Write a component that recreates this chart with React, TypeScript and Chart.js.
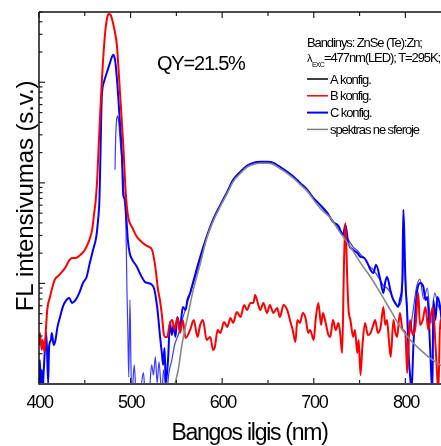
import React, { useEffect, useRef } from 'react';
import { Chart, registerables } from 'chart.js';

Chart.register(...registerables);

// ---- data (wavelength nm, intensity a.u.) ----
const redX = [400,401,403,404,406,407,409,412,417,421,425,429,432,436,440,445,450,455,458,460,462,463.5,465,467,469,472,474,476,478,481,483,485,488.5,492,494.5,497,502,507,512,516,520,523.5,527,530,532,534.4,536,537.7,540,542.5,545.4,548,551,554,557,560,565,569,573,576,579,583,587,590,592,595,598,602,605.5,609,612,616,620,624,627,631,634,636,638,641.6,645,649,652,656,660,663,667,671,674,677,680,682,685,688,691,694,696,700,702,705,708,710,713,716,718,721,724,727,729,731,733,734.5,736.6,738,740,743,745,747.5,749,751,753,756,759,762,765,767,770,773,776,778,780,782,784,787,789,791,794,797,800,802,805,808,811,814,816,819,822,825,827,830,833,835,836,838,840];
const redY = [2.44,3.22,2.18,2.74,2.08,2.87,5.45,7.34,10.8,11.9,13.0,14.5,16.4,17.9,17.9,19.2,21.5,27.1,34.1,48,68,107,213,533,1188,2970,4190,4770,4700,3820,3110,2360,769,239,85,48,35.7,29.0,25.9,24.2,23.1,21.5,14.6,8.61,6.85,4.64,3.22,2.94,2.94,3.87,4.33,3.45,4.54,3.22,4.33,2.87,3.45,4.33,2.94,3.87,4.33,2.74,2.94,2.18,2.33,3.45,3.22,4.14,3.69,4.54,4.05,5.2,4.64,6.11,5.45,6.4,6.4,7.69,6.85,5.45,6.4,5.09,6.11,5.09,5.71,4.64,6.11,5.45,4.33,3.45,2.62,4.33,4.05,5.09,4.54,3.22,3.45,2.74,4.33,6.4,3.87,5.09,4.05,3.07,2.94,4.33,3.45,4.05,3.07,2.03,16.0,40.0,10.8,5.45,4.33,2.94,3.45,2.03,2.74,1.23,2.33,4.05,3.07,3.22,3.87,4.33,3.22,3.69,5.84,3.87,4.33,2.74,1.86,4.33,3.29,2.94,5.09,3.45,3.22,1.29,4.33,3.07,3.69,8.04,3.87,4.33,5.84,3.45,4.33,5.84,2.33,1.1,0.8,4.33,3.45];

const blueX = [400,401,402,403,404,405,407,408,410,411,413,414,416,418,420,423,426,430,433,436,440,444,448,452,455,459,462.5,464.5,466,467,468.5,471,474,476.8,479.3,481,483,485,487.8,490.5,492,494,496,497,499,502,507,510,516,519,525,529,532,534,535.5,537,538.5,541,543,545,547,549,551,554,557,560,562,565,568,575,583,590,598,605.5,612,620,627,634,641.6,649,656,663,671,678,685,693,699.5,707,714.8,721,726.8,732,734.5,737.7,743,747.5,751,755,758.5,762,765,768,772.7,776,778,780,783.6,786,789,792,794.5,796.7,797.8,799,800,802,803.3,805.5,806.6,808.7,811,813,816.4,819.7,822,824,827,829.5,830.6,832.8,835,838,839.5];
const blueY = [1.1,1.73,0.8,1.38,0.8,1.29,2.56,3.22,1.02,2.33,2.74,3.22,2.44,2.74,3.61,4.64,5.84,6.85,7.17,6.4,6.85,8.04,10.1,11.6,15.3,21.5,29.0,42.8,67.8,169,701,1012,1244,1493,1754,1879,1675,1109,475,190,76,67.8,36.5,27.1,20.1,17.1,14.6,12.7,10.3,10.1,9.23,5.84,3.07,2.08,1.55,2.28,1.02,1.81,4.14,3.07,3.87,2.94,4.64,3.69,5.84,5.45,6.85,8.04,10.1,17.1,29.0,42.8,60.4,81.4,107,129,148,158,162,162,158,144,129,115,100,85.2,70.9,60.4,50.3,40.9,37.4,30.4,38.3,25.3,21.5,20.1,18.4,18.0,16.0,13.6,12.7,15.3,10.8,8.04,10.3,11.6,8.61,7.17,6.4,5.84,7.17,10.8,53.9,27.1,10.8,5.09,2.18,1.1,0.8,2.33,5.45,8.61,10.1,9.23,6.85,7.35,2.33,0.8,6.85,4.33,7.35,5.84,4.33];

const blue2X = [483,483.5,485,486,487,489,491.5,493,495,496,497,498,499.3,500.5,501.5,504,506,510,514,516,520,523,525,527,529,531,534,536,539,542,545,548,552,557,562,568,576,583,590,598,605.5,612,620,627,634,641.6,649,656,663,671,678,685,693,699.5,707,714,721,727,732,738,743,748,752,756,760,764,768,772,776,780,784,788,792,796,798.5,801,804,808,812,816,820,824,828,832,836,840];
const blue2Y = [135,239,443,464,405,239,129,70.9,34.1,8.61,3.45,1.17,6.85,1.38,0.8,1.55,0.8,0.8,1.3,0.8,0.8,1.55,1.23,1.86,1.02,1.66,0.8,1.38,0.8,1.32,1.73,2.44,3.07,4.54,6.4,9.66,17,29,43,60,81,107,129,148,158,162,162,158,144,129,115,100,85,71,60,50,42,35,31,27,23,21,19,17.5,15,14,12.5,11,9.5,9,8,6.5,6,7,20,8,3,5,9,11,7,9,4,8,6,5];

const grayX = [547,548.6,552,556,562,568,576,583,590,598,605.5,612,620,627,634,641.6,649,656,663,671,678,685,693,699.5,707,718,729,740,751,762,772.7,783.6,794.5,805.5,816.4,827,838,840];
const grayY = [0.8,1.0,1.38,2.44,4.54,8.3,15.6,27.8,41.2,58.3,78.6,103,124.5,143,152.5,156.5,156.5,152.5,139,124.5,111,96.5,82.3,68.5,56,44.9,31.8,23.1,16.0,11.6,8.04,5.45,3.69,2.74,2.18,1.81,1.55,1.52];

const xMajor = [400, 500, 600, 700, 800];
const xTickLabels = ['400', '500', '600', '700', '800'];
const xMinor = [450, 550, 650, 750];
const yMajor = [1, 10, 100, 1000];
const yMinor = [2,3,4,5,6,7,8,9,20,30,40,50,60,70,80,90,200,300,400,500,600,700,800,900,2000,3000,4000,5000];

const legendLabels = ['A konfig.', 'B konfig.', 'C konfig.', 'spektras ne sferoje'];
const legendColors = ['#000000', '#ff0000', '#0000ff', '#808080'];
const sampleText = 'Bandinys: ZnSe (Te):Zn;';
const excText = '=477nm(LED); T=295K;';
const qyText = 'QY=21.5%';
const xTitle = 'Bangos ilgis (nm)';
const yTitle = 'FL intensivumas (s.v.)';

const FONT = '"Liberation Sans", Arial, sans-serif';

const toPoints = (xs: number[], ys: number[]) => xs.map((x, i) => ({ x, y: ys[i] }));

function drawText(ctx: any, text: string, x: number, y: number, size: number, spacing: number, align: string = 'left') {
  ctx.font = `${size}px ${FONT}`;
  ctx.letterSpacing = `${spacing}px`;
  ctx.textAlign = align;
  ctx.textBaseline = 'alphabetic';
  ctx.fillText(text, x, y);
}

const framePlugin = {
  id: 'framePlugin',
  afterDraw(chart: any) {
    const { ctx, chartArea: a, scales } = chart;
    const xs = scales.x;
    const ys = scales.y;
    ctx.save();
    ctx.lineCap = 'butt';
    const vline = (p: number, y0: number, y1: number) => { ctx.beginPath(); ctx.moveTo(p, y0); ctx.lineTo(p, y1); ctx.stroke(); };
    const hline = (x0: number, x1: number, p: number) => { ctx.beginPath(); ctx.moveTo(x0, p); ctx.lineTo(x1, p); ctx.stroke(); };

    ctx.strokeStyle = '#222';
    ctx.lineWidth = 1.2;
    xMajor.forEach(v => { const p = xs.getPixelForValue(v); vline(p, a.bottom, a.bottom - 6); vline(p, a.top, a.top + 6); });
    xMinor.forEach(v => { const p = xs.getPixelForValue(v); vline(p, a.bottom, a.bottom - 4); vline(p, a.top, a.top + 4); });
    yMajor.forEach(v => { const p = ys.getPixelForValue(v); hline(a.left, a.left + 6, p); });
    yMinor.forEach(v => { const p = ys.getPixelForValue(v); if (p >= a.top - 0.5) { hline(a.left, a.left + 3.5, p); } });

    ctx.strokeStyle = '#111';
    ctx.lineWidth = 1.5;
    hline(a.left, a.right, a.top);
    vline(a.left, a.top, a.bottom);
    ctx.strokeStyle = '#444';
    ctx.lineWidth = 2;
    hline(a.left - 0.75, a.right, a.bottom);

    ctx.fillStyle = '#000';
    xMajor.forEach((v, i) => drawText(ctx, xTickLabels[i], xs.getPixelForValue(v) + 0.6, a.bottom + 24, 18, -1.3, 'center'));
    drawText(ctx, xTitle, (a.left + a.right) / 2 + 9, a.bottom + 56, 23, -1.27, 'center');

    ctx.save();
    ctx.translate(a.left - 6, (a.top + a.bottom) / 2 - 2);
    ctx.rotate(-Math.PI / 2);
    drawText(ctx, yTitle, 0, 0, 24, -0.1, 'center');
    ctx.restore();

    drawText(ctx, qyText, a.left + 118, a.top + 58, 20, -1.2, 'left');

    // legend block
    const lx = a.left + 268;
    drawText(ctx, sampleText, lx, a.top + 35, 13, -1.1, 'left');
    drawText(ctx, '\u03bb', lx, a.top + 50, 11, 0, 'left');
    drawText(ctx, 'EXC', lx + 5, a.top + 55, 7, -0.8, 'left');
    drawText(ctx, excText, lx + 17, a.top + 50, 13, -1.1, 'left');
    legendLabels.forEach((lab, i) => {
      const ly = a.top + 67 + i * 16.8;
      ctx.strokeStyle = legendColors[i];
      ctx.lineWidth = i === 2 ? 2 : 1.5;
      hline(lx, lx + 21, ly);
      ctx.fillStyle = '#000';
      drawText(ctx, lab, lx + 23, ly + 4.5, 13, -1.1, 'left');
    });
    ctx.restore();
  },
};

export default function App() {
  const ref = useRef<HTMLCanvasElement | null>(null);
  useEffect(() => {
    if (!ref.current) return;
    const common = { pointRadius: 0, fill: false, cubicInterpolationMode: 'monotone', tension: 0.3, borderJoinStyle: 'round' };
    const chart = new Chart(ref.current, {
      type: 'line',
      data: {
        datasets: [
          { ...common, label: 'spektras ne sferoje', data: toPoints(grayX, grayY), borderColor: '#888888', borderWidth: 1.6 },
          { ...common, label: 'B konfig.', data: toPoints(redX, redY), borderColor: '#ff0000', borderWidth: 2 },
          { ...common, label: 'C konfig.', data: toPoints(blueX, blueY), borderColor: '#0000ff', borderWidth: 2 },
          { ...common, label: 'C konfig. (2)', data: toPoints(blue2X, blue2Y), borderColor: '#3b3bff', borderWidth: 1.2 },
        ] as any,
      },
      options: {
        responsive: false,
        animation: false,
        devicePixelRatio: 1,
        layout: { padding: { left: 39, top: 12, right: 0, bottom: 62 } },
        plugins: { legend: { display: false }, tooltip: { enabled: false }, title: { display: false } },
        scales: {
          x: { type: 'linear', min: 400, max: 840, display: false },
          y: { type: 'logarithmic', min: 1, max: 5000, display: false },
        },
      } as any,
      plugins: [framePlugin],
    });
    return () => chart.destroy();
  }, []);
  return (
    <div style={{ position: 'fixed', left: 0, top: 0, width: 442, height: 446, overflow: 'hidden', background: '#fff' }}>
      <canvas ref={ref} width={442} height={446} style={{ display: 'block' }} />
    </div>
  );
}
